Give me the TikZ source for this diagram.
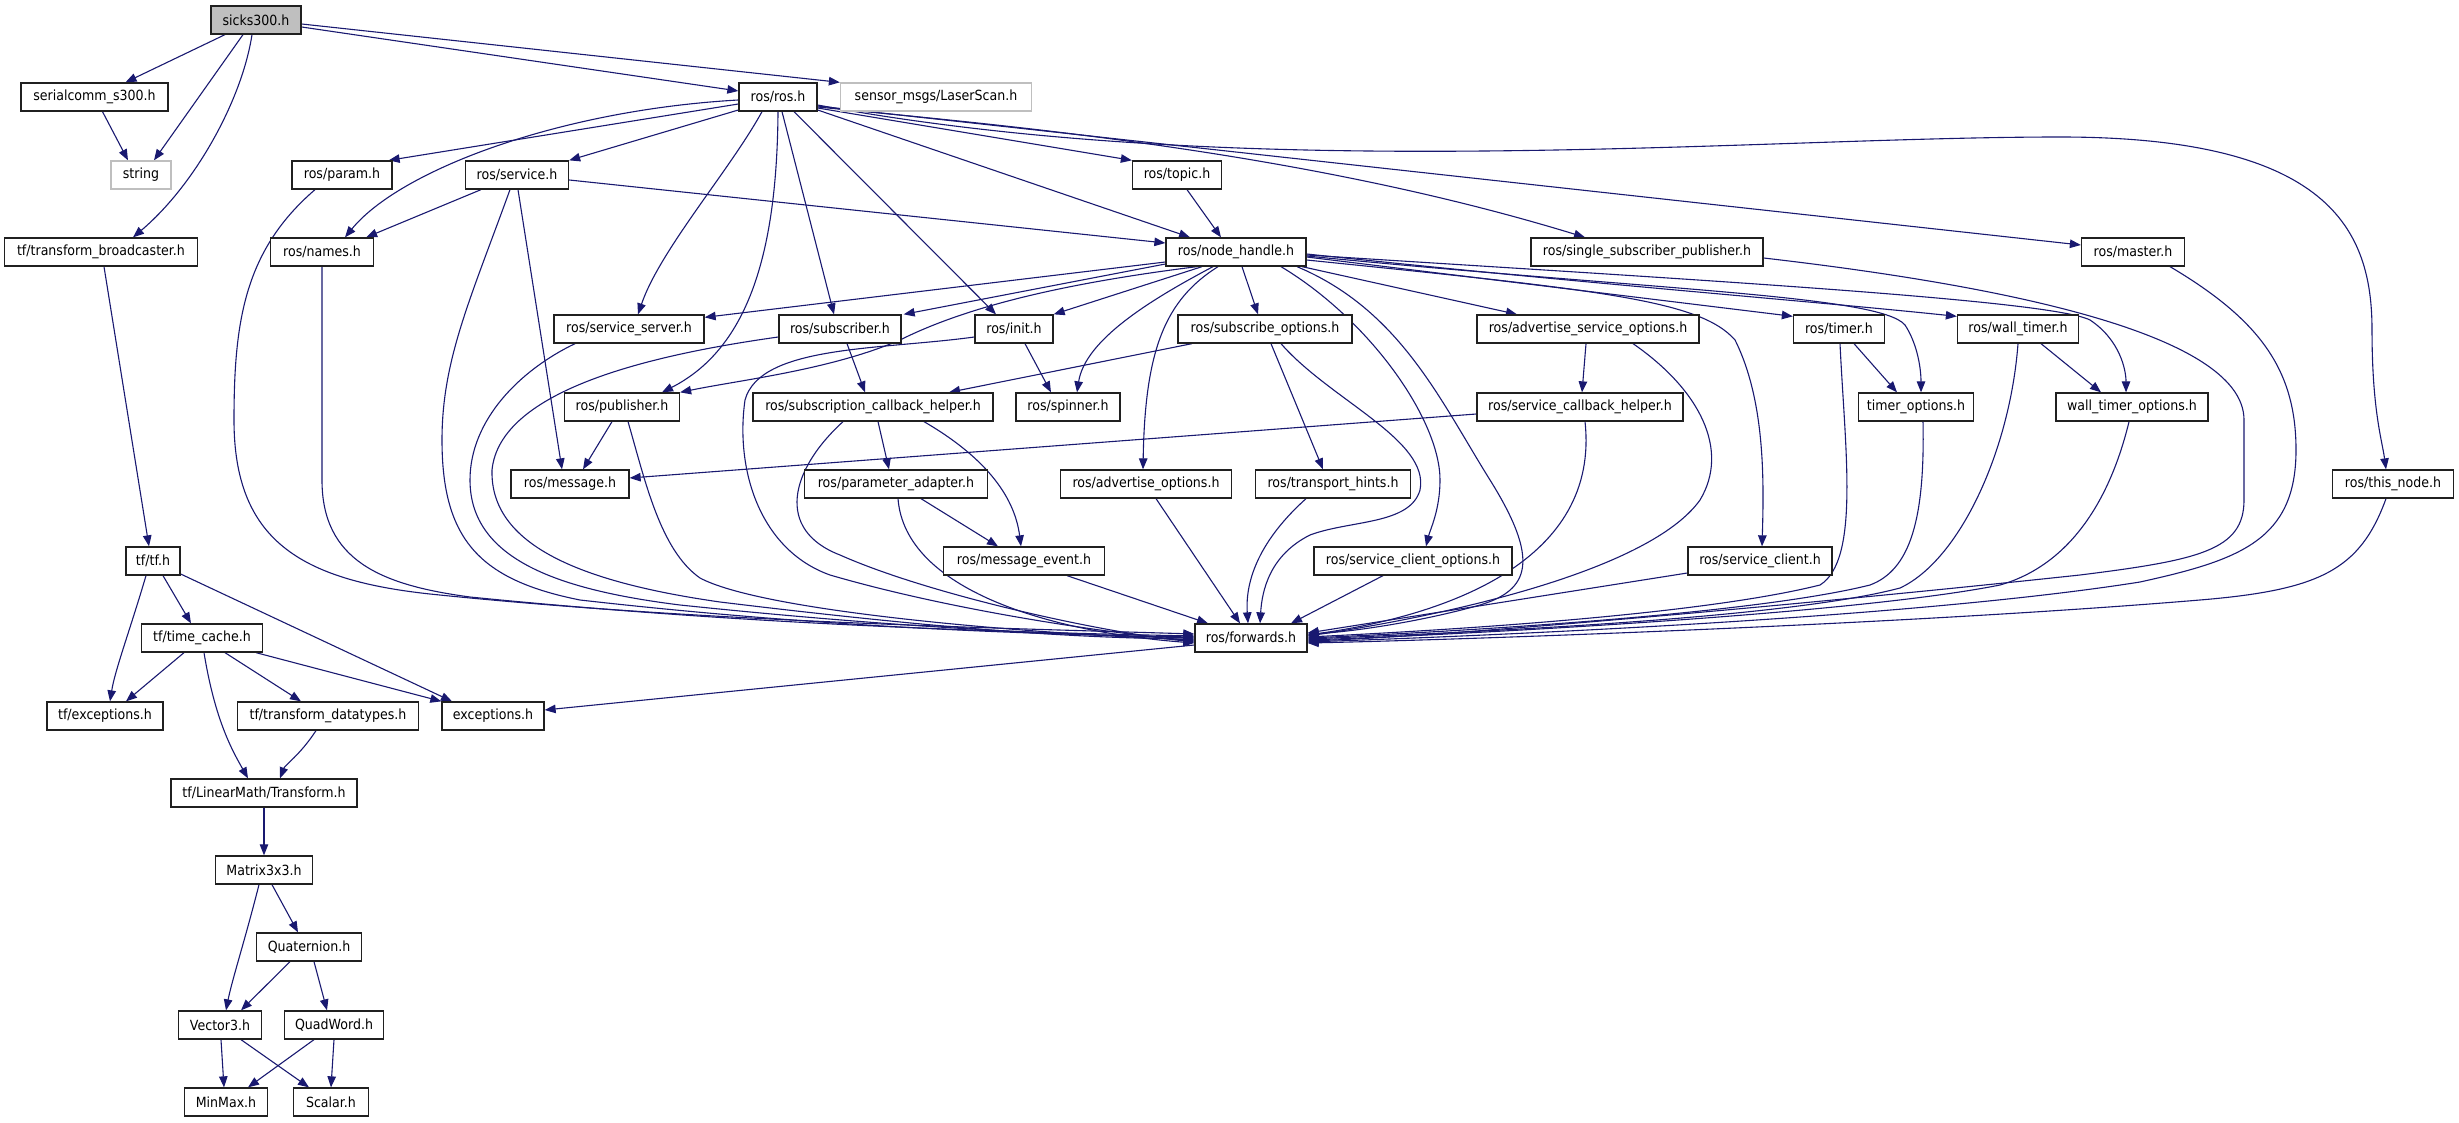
\documentclass[tikz,border=0pt]{standalone}
\usepackage{fontspec}
\setmainfont{DejaVu Sans}[FakeStretch=0.9]
\usetikzlibrary{arrows.meta,backgrounds}
\definecolor{edgec}{HTML}{191970}
\definecolor{greyc}{HTML}{BFBFBF}
\definecolor{borderc}{HTML}{202020}
\begin{document}
\begin{tikzpicture}[x=1pt,y=-1pt,
 box/.style={draw=borderc, line width=1.3pt, fill=white, minimum height=28pt, inner sep=0pt, font=\fontsize{14pt}{16pt}\selectfont},
 gbox/.style={box, draw=greyc},
 e/.style={draw=edgec, line width=1.1pt, -{Triangle[length=11pt,width=8.5pt]}}]
\useasboundingbox (0,0) rectangle (2459,1123);
\node[box,fill=greyc,minimum width=90pt] (sicks) at (256,20) {sicks300.h};
\node[box,minimum width=147pt] (serial) at (94.5,97) {serialcomm\_s300.h};
\node[box,minimum width=78pt] (rosros) at (778,97) {ros/ros.h};
\node[gbox,minimum width=191pt] (laser) at (936,97) {sensor\_msgs/LaserScan.h};
\node[gbox,minimum width=60pt] (string) at (141,175) {string};
\node[box,minimum width=100pt] (param) at (342,175) {ros/param.h};
\node[box,minimum width=103pt] (service) at (517,175) {ros/service.h};
\node[box,minimum width=89pt] (topic) at (1177,175) {ros/topic.h};
\node[box,minimum width=193pt] (tfbc) at (101,252) {tf/transform\_broadcaster.h};
\node[box,minimum width=103pt] (names) at (322,252) {ros/names.h};
\node[box,minimum width=140pt] (nh) at (1236,252) {ros/node\_handle.h};
\node[box,minimum width=232pt] (ssp) at (1647,252) {ros/single\_subscriber\_publisher.h};
\node[box,minimum width=103pt] (master) at (2133,252) {ros/master.h};
\node[box,minimum width=150pt] (sserver) at (629,329) {ros/service\_server.h};
\node[box,minimum width=122pt] (subscriber) at (840,329) {ros/subscriber.h};
\node[box,minimum width=78pt] (init) at (1014,329) {ros/init.h};
\node[box,minimum width=174pt] (subopt) at (1265,329) {ros/subscribe\_options.h};
\node[box,minimum width=222pt] (aso) at (1588,329) {ros/advertise\_service\_options.h};
\node[box,minimum width=91pt] (timer) at (1839,329) {ros/timer.h};
\node[box,minimum width=121pt] (wtimer) at (2018,329) {ros/wall\_timer.h};
\node[box,minimum width=115pt] (publisher) at (622,407) {ros/publisher.h};
\node[box,minimum width=240pt] (sch) at (873,407) {ros/subscription\_callback\_helper.h};
\node[box,minimum width=104pt] (spinner) at (1068,407) {ros/spinner.h};
\node[box,minimum width=206pt] (scbh) at (1580,407) {ros/service\_callback\_helper.h};
\node[box,minimum width=115pt] (topt) at (1916,407) {timer\_options.h};
\node[box,minimum width=152pt] (wtopt) at (2132,407) {wall\_timer\_options.h};
\node[box,minimum width=118pt] (message) at (570,484) {ros/message.h};
\node[box,minimum width=183pt] (padapter) at (896,484) {ros/parameter\_adapter.h};
\node[box,minimum width=171pt] (advopt) at (1146,484) {ros/advertise\_options.h};
\node[box,minimum width=155pt] (thints) at (1333,484) {ros/transport\_hints.h};
\node[box,minimum width=121pt] (thisnode) at (2393,484) {ros/this\_node.h};
\node[box,minimum width=54pt] (tftf) at (153,561) {tf/tf.h};
\node[box,minimum width=161pt] (mevent) at (1024,561) {ros/message\_event.h};
\node[box,minimum width=198pt] (sco) at (1413,561) {ros/service\_client\_options.h};
\node[box,minimum width=144pt] (sclient) at (1760,561) {ros/service\_client.h};
\node[box,minimum width=121pt] (tcache) at (202,638) {tf/time\_cache.h};
\node[box,minimum width=112pt] (fwd) at (1251,638) {ros/forwards.h};
\node[box,minimum width=116pt] (tfexc) at (105,716) {tf/exceptions.h};
\node[box,minimum width=181pt] (tdt) at (328,716) {tf/transform\_datatypes.h};
\node[box,minimum width=102pt] (exc) at (493,716) {exceptions.h};
\node[box,minimum width=186pt] (transform) at (264,793) {tf/LinearMath/Transform.h};
\node[box,minimum width=97pt] (matrix) at (264,870) {Matrix3x3.h};
\node[box,minimum width=105pt] (quat) at (309,947) {Quaternion.h};
\node[box,minimum width=83pt] (vec) at (220,1025) {Vector3.h};
\node[box,minimum width=99pt] (quad) at (334,1025) {QuadWord.h};
\node[box,minimum width=83pt] (minmax) at (226,1102) {MinMax.h};
\node[box,minimum width=75pt] (scalar) at (331,1102) {Scalar.h};

\begin{scope}[on background layer]
% sicks300.h
\draw[e] ([xshift=-31pt]sicks.south) -- ([xshift=31pt]serial.north);
\draw[e] ([xshift=-13pt]sicks.south) -- ([xshift=13pt]string.north);
\draw[e] ([xshift=-4pt]sicks.south) .. controls (242,100) and (195,185) .. ([xshift=32pt]tfbc.north);
\draw[e] ([yshift=-7pt]sicks.east) -- ([yshift=6pt]rosros.west);
\draw[e] ([yshift=-4pt]sicks.east) -- (laser.north west);
\draw[e] ([xshift=8pt]serial.south) -- ([xshift=-13pt]string.north);
% ros/ros.h
\draw[e] ([yshift=-7pt]rosros.west) -- ([xshift=-4pt]param.north east);
\draw[e] ([yshift=-3pt]rosros.west) .. controls (560,110) and (400,170) .. ([xshift=23pt]names.north);
\draw[e] ([yshift=-13pt]rosros.west) -- (service.north east);
\draw[e] ([xshift=-16pt]rosros.south) .. controls (730,170) and (660,250) .. ([xshift=9pt]sserver.north);
\draw[e] (rosros.south) .. controls (777,260) and (745,350) .. ([xshift=40pt]publisher.north);
\draw[e] ([xshift=4pt]rosros.south) -- ([xshift=-6pt]subscriber.north);
\draw[e] ([xshift=16pt]rosros.south) -- ([xshift=-18pt]init.north);
\draw[e] ([yshift=-13pt]rosros.east) -- ([xshift=-46pt]nh.north);
\draw[e] ([yshift=-11pt]rosros.east) -- (topic.north west);
\draw[e] ([yshift=-10pt]rosros.east) .. controls (1000,125) and (1300,150) .. ([xshift=-62pt]ssp.north);
\draw[e] ([yshift=-9pt]rosros.east) -- ([yshift=7pt]master.west);
\draw[e] ([yshift=-8pt]rosros.east) .. controls (1250,185) and (1750,137) .. (2060,137) .. controls (2330,137) and (2372,230) .. (2372,330) .. controls (2372,410) and (2382,440) .. ([xshift=-7pt]thisnode.north);
% ros/service.h
\draw[e] ([xshift=-36pt]service.south) -- ([xshift=-8pt]names.north east);
\draw[e] ([yshift=-5pt]service.east) -- ([yshift=9pt]nh.west);
\draw[e] ([xshift=1pt]service.south) -- ([xshift=-8pt]message.north);
% ros/topic.h
\draw[e] ([xshift=10pt]topic.south) -- ([xshift=-15pt]nh.north);
% ros/node_handle.h
\draw[e] ([yshift=-10pt]nh.west) -- ([yshift=-3pt]sserver.north east);
\draw[e] ([yshift=-12pt]nh.west) -- ([xshift=2pt]subscriber.north east);
\draw[e] ([xshift=-39pt]nh.south) .. controls (1050,285) and (960,310) .. (900,340) .. controls (830,370) and (740,380) .. (publisher.north east);
\draw[e] ([xshift=-34pt]nh.south) -- (init.north east);
\draw[e] ([xshift=-23pt]nh.south) .. controls (1150,300) and (1085,340) .. ([xshift=9pt]spinner.north);
\draw[e] ([xshift=-18pt]nh.south) .. controls (1165,300) and (1145,350) .. ([xshift=-3pt]advopt.north);
\draw[e] ([xshift=6pt]nh.south) -- ([xshift=-7pt]subopt.north);
\draw[e] ([xshift=45pt]nh.south) .. controls (1370,320) and (1440,420) .. (1440,480) .. controls (1440,510) and (1430,530) .. ([xshift=13pt]sco.north);
\draw[e] ([xshift=66pt]nh.south) -- ([xshift=-71pt]aso.north);
\draw[e] ([yshift=-5pt]nh.east) -- ([yshift=-2pt]timer.north west);
\draw[e] ([yshift=-2pt]nh.east) .. controls (1600,285) and (1800,300) .. ([yshift=-2pt]wtimer.north west);
\draw[e] ([yshift=-4pt]nh.east) .. controls (1650,290) and (1880,295) .. (1905,325) .. controls (1918,345) and (1921,370) .. ([xshift=5pt]topt.north);
\draw[e] ([yshift=-3pt]nh.east) .. controls (1700,280) and (2050,300) .. (2090,320) .. controls (2120,340) and (2126,370) .. ([xshift=-6pt]wtopt.north);
\draw[e] ([yshift=-8pt]nh.east) .. controls (1600,290) and (1700,300) .. (1735,340) .. controls (1765,400) and (1764,480) .. ([xshift=2pt]sclient.north);
% third row
\draw[e] ([xshift=-73pt]subopt.south) -- ([xshift=76pt]sch.north);
\draw[e] ([xshift=6pt]subopt.south) -- ([xshift=-10pt]thints.north);
\draw[e] ([xshift=7pt]subscriber.south) -- ([xshift=-8pt]sch.north);
\draw[e] ([xshift=11pt]init.south) -- ([xshift=-17pt]spinner.north);
\draw[e] ([xshift=5pt]sch.south) -- ([xshift=-7pt]padapter.north);
\draw[e] ([xshift=51pt]sch.south) .. controls (990,460) and (1015,500) .. ([xshift=-3pt]mevent.north);
\draw[e] ([xshift=25pt]padapter.south) -- ([xshift=-26pt]mevent.north);
\draw[e] ([xshift=-2pt]aso.south) -- ([xshift=2pt]scbh.north);
\draw[e] ([yshift=-7pt]scbh.west) -- ([yshift=6pt]message.east);
\draw[e] ([xshift=-10pt]publisher.south) -- ([xshift=13pt]message.north);
\draw[e] ([xshift=15pt]timer.south) -- ([xshift=-19pt]topt.north);
\draw[e] ([xshift=23pt]wtimer.south) -- ([xshift=-31pt]wtopt.north);
% into ros/forwards.h from the left
\draw[e] ([xshift=-27pt]param.south) .. controls (245,250) and (234,320) .. (234,420) .. controls (234,540) and (300,580) .. (430,594) .. controls (700,622) and (1000,628) .. ([yshift=4pt]fwd.west);
\draw[e] (names.south) -- (322,480) .. controls (322,560) and (380,585) .. (470,597) .. controls (750,625) and (1000,632) .. ([yshift=2pt]fwd.west);
\draw[e] ([xshift=-7pt]service.south) .. controls (470,300) and (442,360) .. (442,440) .. controls (442,540) and (480,580) .. (580,600) .. controls (800,625) and (1000,634) .. ([yshift=1pt]fwd.west);
\draw[e] ([xshift=-54pt]sserver.south) .. controls (520,370) and (470,420) .. (470,480) .. controls (470,560) and (560,590) .. (680,605) .. controls (900,628) and (1050,634) .. (fwd.west);
\draw[e] ([yshift=-8pt]subscriber.west) .. controls (650,355) and (500,390) .. (492,470) .. controls (490,545) and (580,582) .. (720,602) .. controls (950,630) and (1080,638) .. ([yshift=-1pt]fwd.west);
\draw[e] ([xshift=6pt]publisher.south) .. controls (645,480) and (660,550) .. (700,578) .. controls (760,610) and (1000,632) .. ([yshift=-2pt]fwd.west);
\draw[e] ([yshift=-8pt]init.west) .. controls (880,350) and (760,345) .. (745,400) .. controls (735,470) and (760,550) .. (830,575) .. controls (950,610) and (1100,632) .. ([yshift=-3pt]fwd.west);
\draw[e] ([xshift=-30pt]sch.south) .. controls (790,470) and (775,530) .. (840,555) .. controls (930,595) and (1100,632) .. ([yshift=-4pt]fwd.west);
\draw[e] ([xshift=2pt]padapter.south) .. controls (905,590) and (1050,632) .. ([yshift=-5pt]fwd.west);
% into ros/forwards.h from above
\draw[e] ([xshift=43pt]mevent.south) -- ([xshift=-43pt]fwd.north);
\draw[e] ([xshift=10pt]advopt.south) -- ([xshift=-11pt]fwd.north);
\draw[e] ([xshift=-27pt]thints.south) .. controls (1260,540) and (1245,580) .. ([xshift=-3pt]fwd.north);
\draw[e] ([xshift=16pt]subopt.south) .. controls (1330,400) and (1430,440) .. (1420,490) .. controls (1410,525) and (1350,520) .. (1310,535) .. controls (1270,555) and (1262,590) .. ([xshift=9pt]fwd.north);
\draw[e] ([xshift=-30pt]sco.south) -- ([xshift=40pt]fwd.north);
% into ros/forwards.h from the right
\draw[e] ([xshift=61pt]nh.south) .. controls (1400,310) and (1440,400) .. (1490,480) .. controls (1540,560) and (1530,590) .. (1480,605) .. controls (1420,622) and (1350,632) .. ([yshift=4pt]fwd.east);
\draw[e] ([xshift=5pt]scbh.south) .. controls (1600,560) and (1450,615) .. ([yshift=3pt]fwd.east);
\draw[e] ([xshift=45pt]aso.south) .. controls (1700,390) and (1730,450) .. (1700,500) .. controls (1650,570) and (1450,615) .. ([yshift=2pt]fwd.east);
\draw[e] ([yshift=-12pt]sclient.west) -- ([yshift=5pt]fwd.east);
\draw[e] ([xshift=1pt]timer.south) .. controls (1845,450) and (1860,560) .. (1820,585) .. controls (1700,615) and (1450,630) .. ([yshift=1pt]fwd.east);
\draw[e] ([xshift=7pt]topt.south) .. controls (1925,520) and (1910,570) .. (1870,585) .. controls (1750,615) and (1450,632) .. (fwd.east);
\draw[e] (wtimer.south) .. controls (2010,450) and (1960,560) .. (1900,588) .. controls (1780,620) and (1450,633) .. ([yshift=-1pt]fwd.east);
\draw[e] ([xshift=-3pt]wtopt.south) .. controls (2110,500) and (2070,565) .. (2000,585) .. controls (1850,615) and (1450,635) .. ([yshift=-2pt]fwd.east);
\draw[e] ([yshift=-6pt]ssp.east) .. controls (1980,283) and (2244,330) .. (2244,420) -- (2244,500) .. controls (2244,550) and (2200,560) .. (2080,575) .. controls (1800,605) and (1450,636) .. ([yshift=-3pt]fwd.east);
\draw[e] ([xshift=37pt]master.south) .. controls (2260,320) and (2296,370) .. (2296,450) .. controls (2296,540) and (2240,560) .. (2140,582) .. controls (1900,620) and (1450,637) .. ([yshift=-4pt]fwd.east);
\draw[e] ([xshift=-7pt]thisnode.south) .. controls (2360,570) and (2320,590) .. (2200,600) .. controls (1900,625) and (1450,640) .. ([yshift=-5pt]fwd.east);
% ros/forwards.h to exceptions.h
\draw[e] ([yshift=-7pt]fwd.west) -- ([yshift=6pt]exc.east);
% tf part
\draw[e] ([xshift=3pt]tfbc.south) -- ([xshift=-4pt]tftf.north);
\draw[e] ([xshift=-7pt]tftf.south) .. controls (130,630) and (115,670) .. ([xshift=5pt]tfexc.north);
\draw[e] ([xshift=10pt]tftf.south) -- ([xshift=-11pt]tcache.north);
\draw[e] ([yshift=-13pt]tftf.east) -- ([xshift=-41pt]exc.north);
\draw[e] ([xshift=-18pt]tcache.south) -- ([xshift=21pt]tfexc.north);
\draw[e] ([xshift=23pt]tcache.south) -- ([xshift=-27pt]tdt.north);
\draw[e] ([xshift=54pt]tcache.south) -- (exc.north west);
\draw[e] ([xshift=2pt]tcache.south) .. controls (215,720) and (232,750) .. ([xshift=-16pt]transform.north);
\draw[e] ([xshift=-12pt]tdt.south) .. controls (300,755) and (285,765) .. ([xshift=16pt]transform.north);
\draw[e] (transform) -- (matrix);
\draw[e] ([xshift=8pt]matrix.south) -- ([xshift=-11pt]quat.north);
\draw[e] ([xshift=-5pt]matrix.south) .. controls (245,940) and (232,980) .. ([xshift=6pt]vec.north);
\draw[e] ([xshift=-19pt]quat.south) -- ([xshift=21pt]vec.north);
\draw[e] ([xshift=5pt]quat.south) -- ([xshift=-7pt]quad.north);
\draw[e] ([xshift=1pt]vec.south) -- ([xshift=-2pt]minmax.north);
\draw[e] ([xshift=21pt]vec.south) -- ([xshift=-22pt]scalar.north);
\draw[e] ([xshift=-20pt]quad.south) -- ([xshift=22pt]minmax.north);
\draw[e] (quad.south) -- (scalar.north);
\end{scope}
\end{tikzpicture}
\end{document}
